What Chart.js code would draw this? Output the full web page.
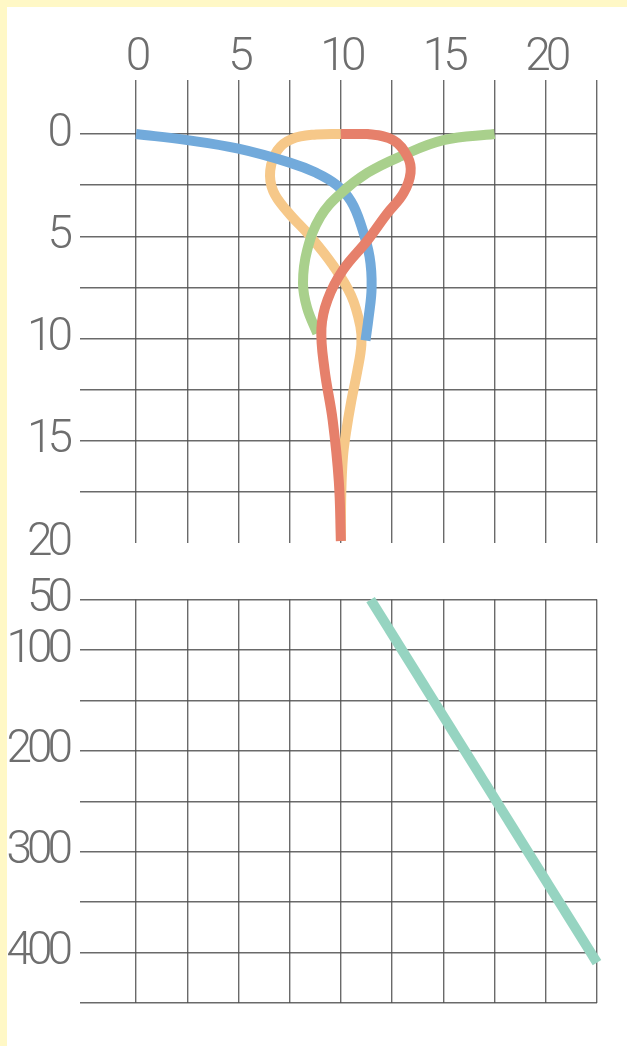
<!DOCTYPE html>
<html>
<head>
<meta charset="utf-8">
<script src="https://cdn.jsdelivr.net/npm/chart.js@4.4.1/dist/chart.umd.min.js"></script>
<style>
  html, body { margin: 0; padding: 0; }
  body { width: 627px; height: 1046px; background: #fff8c6; position: relative; overflow: hidden; }
  #sheet { position: absolute; left: 7px; top: 7px; right: 0; bottom: 0; background: #ffffff; }
  #upper { position: absolute; left: 0; top: 0; }
  #lower { position: absolute; left: 0; top: 560px; }
</style>
</head>
<body>
<div id="sheet"></div>
<canvas id="upper" width="627" height="590"></canvas>
<canvas id="lower" width="627" height="486"></canvas>
<script>
// Shallow profiles (depth 0–20), as [x, depth] pairs along each curve
const blueCurve = [
  [0, 0], [2.5, 0.3], [5, 0.72], [7.5, 1.4], [8.8, 1.9], [9.8, 2.5],
  [10.5, 3.3], [11.0, 4.5], [11.4, 6], [11.5, 7.5], [11.35, 9], [11.2, 10.1]
];
const orangeCurve = [
  [10, 0], [8.8, 0.02], [7.6, 0.25], [6.9, 0.8], [6.55, 1.8], [6.7, 2.8],
  [7.4, 3.8], [8.5, 5.0], [9.6, 6.4], [10.5, 7.9], [10.95, 9.4], [11.0, 10.3],
  [10.8, 11.6], [10.5, 13.1], [10.25, 14.6], [10.1, 15.8], [10.02, 17.5], [10, 19.9]
];
const greenCurve = [
  [17.5, 0], [15, 0.3], [12.9, 1.1], [11.3, 1.9], [10, 2.9], [9, 4.05],
  [8.35, 5.7], [8.15, 7.3], [8.35, 8.5], [8.85, 9.75]
];
const redCurve = [
  [10, 0], [11.3, 0], [12.55, 0.3], [13.25, 1.1], [13.4, 1.9], [13.05, 2.9],
  [12.25, 3.9], [11.3, 5.2], [10.1, 6.65], [9.35, 8.1], [9.05, 9.5],
  [9.2, 11.5], [9.6, 14], [9.9, 17], [10, 19.9]
];
// Deep profile (depth 50–450)
const tealLine = [[11.45, 50], [22.5, 410]];

// Axis ranges and labelled ticks
const xRange = [0, 22.5];
const xLabels = [0, 5, 10, 15, 20];
const upperDepth = [0, 20];
const upperLabels = [0, 5, 10, 15, 20];
const lowerDepth = [50, 450];
const lowerLabels = [50, 100, 200, 300, 400];

const toPoints = arr => arr.map(([x, y]) => ({ x, y }));

const gridColor = 'rgba(80,80,80,0.85)';
const labelColor = '#6e6e6e';
const labelFont = { family: "'Roboto', sans-serif", size: 46, weight: 300 };

// Tighter digit spacing for the axis numbers
const narrowDigits = {
  id: 'narrowDigits',
  beforeDraw(chart) { chart.ctx.letterSpacing = '-5px'; }
};

function lineSet(data, color) {
  return {
    data: toPoints(data),
    showLine: true,
    borderColor: color,
    backgroundColor: color,
    borderWidth: 10,
    pointRadius: 0,
    pointHoverRadius: 0,
    tension: 0.4,
    fill: false,
    clip: false
  };
}

const common = {
  responsive: false,
  animation: false,
  events: [],
  plugins: { legend: { display: false }, tooltip: { enabled: false } }
};

// Upper panel
new Chart(document.getElementById('upper'), {
  type: 'scatter',
  plugins: [narrowDigits],
  data: {
    datasets: [
      lineSet(redCurve, '#e6806b'),
      lineSet(greenCurve, '#a9d08c'),
      lineSet(blueCurve, '#72aadb'),
      lineSet(orangeCurve, '#f6c889')
    ]
  },
  options: {
    ...common,
    layout: { padding: { left: 0, right: 30, top: 0, bottom: 47 } },
    scales: {
      x: {
        type: 'linear', position: 'top', min: xRange[0], max: xRange[1],
        border: { display: false },
        grid: { color: gridColor, lineWidth: 1.4, tickLength: 54, drawTicks: true },
        ticks: {
          stepSize: 2.5, autoSkip: false, maxRotation: 0, minRotation: 0,
          padding: -6, color: labelColor, font: labelFont,
          callback: v => xLabels.includes(v) ? String(v) : ''
        },
        afterFit: s => { s.height = 134; }
      },
      y: {
        type: 'linear', reverse: true, min: upperDepth[0], max: upperDepth[1],
        border: { display: false },
        grid: {
          color: ctx => (ctx.tick && ctx.tick.value === upperDepth[1]) ? 'rgba(0,0,0,0)' : gridColor,
          lineWidth: 1.4, tickLength: 56, drawTicks: true
        },
        ticks: {
          stepSize: 2.5, autoSkip: false, padding: 12, color: labelColor, font: labelFont,
          callback: v => upperLabels.includes(v) ? String(v) : ''
        },
        afterFit: s => { s.width = 136; }
      }
    }
  }
});

// Lower panel
new Chart(document.getElementById('lower'), {
  type: 'scatter',
  plugins: [narrowDigits],
  data: { datasets: [lineSet(tealLine, '#96d4c1')] },
  options: {
    ...common,
    layout: { padding: { left: 0, right: 30, top: 33, bottom: 43 } },
    scales: {
      x: {
        type: 'linear', position: 'bottom', min: xRange[0], max: xRange[1],
        border: { display: false },
        grid: { color: gridColor, lineWidth: 1.4, drawTicks: false },
        ticks: { stepSize: 2.5, display: false },
        afterFit: s => { s.height = 0; }
      },
      y: {
        type: 'linear', reverse: true, min: lowerDepth[0], max: lowerDepth[1],
        border: { display: false },
        grid: { color: gridColor, lineWidth: 1.4, tickLength: 56, drawTicks: true },
        ticks: {
          stepSize: 50, autoSkip: false, padding: 12, color: labelColor, font: labelFont,
          callback: v => lowerLabels.includes(v) ? String(v) : ''
        },
        afterFit: s => { s.width = 136; }
      }
    }
  }
});
</script>
</body>
</html>
